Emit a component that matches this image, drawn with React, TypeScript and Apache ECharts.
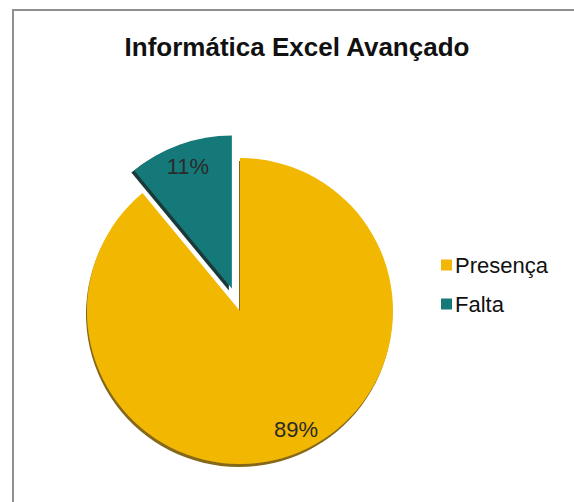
import React, { useEffect, useRef } from "react";
import * as echarts from "echarts";

const titleText = "Informática Excel Avançado";
const categories = ["Presença", "Falta"];
const values = [89, 11];
const colors = ["#F2B706", "#167979"];
const shadowColors = ["rgba(120,86,0,0.9)", "rgba(8,45,45,0.95)"];

export default function App() {
  const ref = useRef<HTMLDivElement>(null);
  useEffect(() => {
    if (!ref.current) return;
    const chart = echarts.init(ref.current, null, { renderer: "svg" });
    const center = [240, 311];
    const r = 153;
    const mainData = categories.map((name, i) => ({
      name,
      value: values[i],
      selected: name === "Falta",
      itemStyle: {
        color: colors[i],
        shadowColor: shadowColors[i],
        shadowBlur: 1,
        shadowOffsetX: i === 0 ? -1 : -3,
        shadowOffsetY: i === 0 ? 3 : 2,
      },
    }));
    const ghostData = categories.map((name, i) => ({
      name,
      value: values[i],
      selected: name === "Falta",
      label: { offset: i === 0 ? [12, -4] : [3, 0] },
    }));
    chart.setOption({
      animation: false,
      backgroundColor: "#ffffff",
      title: {
        text: titleText,
        left: 292,
        top: 29,
        textAlign: "center",
        textStyle: {
          fontFamily: "Liberation Sans, Arial, sans-serif",
          fontWeight: "bold",
          fontSize: 26,
          color: "#111",
        },
      },
      legend: {
        orient: "vertical",
        left: 436,
        top: 249,
        itemWidth: 11,
        itemHeight: 11,
        itemGap: 17,
        icon: "rect",
        data: categories,
        textStyle: {
          fontFamily: "Liberation Sans, Arial, sans-serif",
          fontSize: 22,
          color: "#111",
          padding: [0, 0, 0, -2],
        },
      },
      graphic: [
        {
          type: "rect",
          shape: { x: 13, y: 10, width: 620, height: 620 },
          style: { fill: "none", stroke: "#8f8f8f", lineWidth: 2 },
          silent: true,
        },
      ],
      series: [
        {
          type: "pie",
          center,
          radius: [0, r],
          startAngle: 90,
          clockwise: true,
          selectedMode: "single",
          selectedOffset: 24,
          silent: true,
          label: { show: false },
          labelLine: { show: false },
          emphasis: { disabled: true },
          data: mainData,
        },
        {
          type: "pie",
          center,
          radius: [r * 0.66, r],
          startAngle: 90,
          clockwise: true,
          selectedMode: "single",
          selectedOffset: 24,
          silent: true,
          itemStyle: { color: "rgba(0,0,0,0)" },
          label: {
            show: true,
            position: "inside",
            formatter: "{d}%",
            fontFamily: "Liberation Sans, Arial, sans-serif",
            fontSize: 22,
            color: "#2a2a2a",
          },
          labelLine: { show: false },
          emphasis: { disabled: true },
          data: ghostData,
        },
      ],
    });
    return () => chart.dispose();
  }, []);
  return (
    <div
      ref={ref}
      style={{ position: "fixed", left: 0, top: 0, width: 574, height: 502 }}
    />
  );
}
